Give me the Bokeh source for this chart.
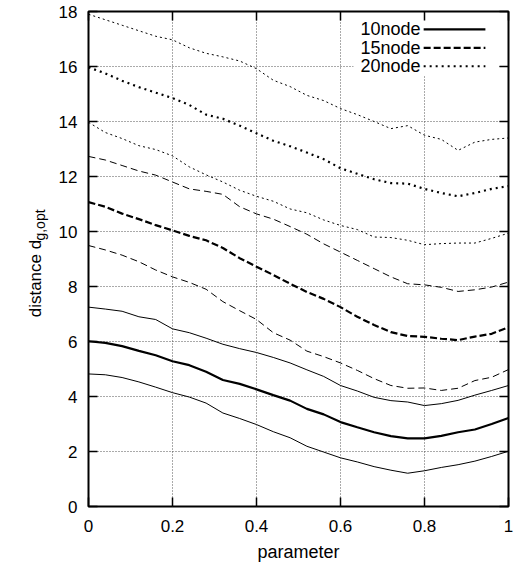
import math
from bokeh.plotting import figure
from bokeh.models import Range1d, LinearAxis, Label, BoxAnnotation, FixedTicker
from bokeh.embed import file_html
from bokeh.resources import INLINE

# ---- data ----
x_vals = [0.00, 0.04, 0.08, 0.12, 0.16, 0.20, 0.24, 0.28, 0.32, 0.36, 0.40, 0.44, 0.48,
          0.52, 0.56, 0.60, 0.64, 0.68, 0.72, 0.76, 0.80, 0.84, 0.88, 0.92, 0.96, 1.00]

node20_upper = [17.9, 17.7, 17.5, 17.3, 17.1, 16.97, 16.68, 16.48, 16.35, 16.2, 15.92, 15.5, 15.27,
                14.95, 14.76, 14.47, 14.25, 14.0, 13.74, 13.85, 13.5, 13.35, 12.95, 13.25, 13.35, 13.4]
node20_mean = [15.97, 15.75, 15.48, 15.25, 15.05, 14.85, 14.6, 14.25, 14.1, 13.85, 13.57, 13.3, 13.1,
               12.87, 12.63, 12.3, 12.1, 11.9, 11.76, 11.74, 11.55, 11.4, 11.28, 11.4, 11.55, 11.65]
node20_lower = [13.97, 13.6, 13.38, 13.12, 12.98, 12.75, 12.35, 12.06, 11.8, 11.5, 11.28, 11.1, 10.82,
                10.68, 10.42, 10.22, 10.07, 9.8, 9.78, 9.68, 9.52, 9.56, 9.58, 9.58, 9.75, 9.94]

node15_upper = [12.73, 12.6, 12.4, 12.2, 12.05, 11.8, 11.55, 11.46, 11.35, 10.9, 10.64, 10.45, 10.18,
                9.9, 9.55, 9.25, 8.95, 8.65, 8.35, 8.1, 8.06, 7.97, 7.82, 7.88, 7.98, 8.16]
node15_mean = [11.07, 10.9, 10.65, 10.45, 10.23, 10.04, 9.84, 9.68, 9.4, 9.03, 8.72, 8.42, 8.1,
               7.8, 7.55, 7.25, 6.9, 6.6, 6.34, 6.2, 6.17, 6.1, 6.05, 6.18, 6.28, 6.52]
node15_lower = [9.49, 9.33, 9.14, 8.9, 8.6, 8.35, 8.15, 7.9, 7.45, 7.12, 6.8, 6.32, 6.05,
                5.65, 5.45, 5.22, 4.95, 4.65, 4.4, 4.3, 4.31, 4.22, 4.3, 4.58, 4.7, 4.98]

node10_upper = [7.25, 7.18, 7.1, 6.9, 6.8, 6.46, 6.32, 6.12, 5.9, 5.74, 5.6, 5.42, 5.22,
                4.97, 4.73, 4.4, 4.2, 3.97, 3.85, 3.8, 3.67, 3.74, 3.86, 4.05, 4.22, 4.4]
node10_mean = [6.01, 5.95, 5.83, 5.66, 5.5, 5.28, 5.14, 4.9, 4.6, 4.46, 4.26, 4.05, 3.85,
               3.55, 3.35, 3.07, 2.88, 2.7, 2.56, 2.48, 2.48, 2.57, 2.7, 2.8, 3.0, 3.22]
node10_lower = [4.82, 4.79, 4.69, 4.53, 4.34, 4.14, 3.98, 3.76, 3.4, 3.2, 2.98, 2.72, 2.5,
                2.19, 1.98, 1.77, 1.62, 1.45, 1.32, 1.21, 1.3, 1.42, 1.52, 1.65, 1.82, 2.01]

series_names = ["10node", "15node", "20node"]
x_ticks = [0, 0.2, 0.4, 0.6, 0.8, 1]
x_tick_labels = ["0", "0.2", "0.4", "0.6", "0.8", "1"]
y_ticks = [0, 2, 4, 6, 8, 10, 12, 14, 16, 18]

FONT = "Liberation Sans"

p = figure(frame_width=420, frame_height=495,
           x_range=Range1d(0, 1), y_range=Range1d(0, 18),
           output_backend="svg", toolbar_location=None,
           min_border_left=88, min_border_right=6, min_border_top=11, min_border_bottom=40,
           background_fill_color="white", border_fill_color="white")

p.outline_line_color = "black"
p.outline_line_width = 2

for ax in (p.xaxis[0], p.yaxis[0]):
    ax.axis_line_color = None
    ax.major_tick_in = 9
    ax.major_tick_out = 0
    ax.major_tick_line_width = 1.5
    ax.minor_tick_line_color = None
    ax.major_label_text_font = FONT
    ax.major_label_text_font_size = "17px"
    ax.major_label_text_color = "black"

p.xaxis.ticker = FixedTicker(ticks=x_ticks)
p.yaxis.ticker = FixedTicker(ticks=y_ticks)
p.xaxis.major_label_overrides = {t: l for t, l in zip(x_ticks, x_tick_labels)}
p.xaxis.major_label_standoff = 13
p.yaxis.major_label_standoff = 11

p.xaxis.axis_label = "parameter"
p.xaxis.axis_label_text_font = FONT
p.xaxis.axis_label_text_font_size = "18px"
p.xaxis.axis_label_text_font_style = "normal"
p.xaxis.axis_label_text_color = "black"
p.xaxis.axis_label_standoff = 7

# mirror ticks on right and top
right_ax = LinearAxis(ticker=FixedTicker(ticks=y_ticks), axis_line_color=None,
                      major_tick_in=9, major_tick_out=0, major_tick_line_width=1.5,
                      minor_tick_line_color=None, major_label_text_font_size="0px",
                      major_label_standoff=0)
top_ax = LinearAxis(ticker=FixedTicker(ticks=x_ticks), axis_line_color=None,
                    major_tick_in=9, major_tick_out=0, major_tick_line_width=1.5,
                    minor_tick_line_color=None, major_label_text_font_size="0px",
                    major_label_standoff=0)
p.add_layout(right_ax, "right")
p.add_layout(top_ax, "above")

# grid
p.xgrid.ticker = FixedTicker(ticks=x_ticks)
p.ygrid.ticker = FixedTicker(ticks=y_ticks)
for g in (p.xgrid[0], p.ygrid[0]):
    g.grid_line_color = "#555555"
    g.grid_line_dash = "1 2"
    g.grid_line_width = 1

# white legend background (hides grid, drawn below curves)
p.add_layout(BoxAnnotation(left=0.631, right=0.976, bottom=15.67, top=17.9,
                           fill_color="white", fill_alpha=1.0, line_color=None,
                           level="underlay"))

THIN, THICK = 1.0, 2.2
dash10, dash15, dash20 = "solid", "7 3", "2 4"
dash15_thin, dash20_thin = "7 4", "2 3"

p.line(x_vals, node10_upper, line_color="black", line_width=THIN, line_dash=dash10)
p.line(x_vals, node10_mean, line_color="black", line_width=THICK, line_dash=dash10)
p.line(x_vals, node10_lower, line_color="black", line_width=THIN, line_dash=dash10)
p.line(x_vals, node15_upper, line_color="black", line_width=THIN, line_dash=dash15_thin)
p.line(x_vals, node15_mean, line_color="black", line_width=THICK, line_dash=dash15)
p.line(x_vals, node15_lower, line_color="black", line_width=THIN, line_dash=dash15_thin)
p.line(x_vals, node20_upper, line_color="black", line_width=THIN, line_dash=dash20_thin)
p.line(x_vals, node20_mean, line_color="black", line_width=THICK, line_dash=dash20)
p.line(x_vals, node20_lower, line_color="black", line_width=THIN, line_dash=dash20_thin)

# custom legend: text right-aligned, line sample on the right
leg_y = [17.35, 16.68, 16.01]
leg_dash = [dash10, dash15, dash20]
for name, ly, dsh in zip(series_names, leg_y, leg_dash):
    p.add_layout(Label(x=0.7905, y=ly, text=name, text_align="right", text_baseline="middle",
                       text_font=FONT, text_font_size="18px", text_color="black"))
    p.segment(x0=[0.798], y0=[ly], x1=[0.945], y1=[ly], line_color="black",
              line_width=THICK, line_dash=dsh)

# y axis label with subscript, placed in the left side panel
p.add_layout(Label(x=-0.1262, y=6.88, text="distance d", angle=math.pi / 2,
                   text_align="left", text_baseline="alphabetic",
                   text_font=FONT, text_font_size="17px", text_color="black"), "left")
p.add_layout(Label(x=-0.1155, y=9.67, text="g,opt", angle=math.pi / 2,
                   text_align="left", text_baseline="alphabetic",
                   text_font=FONT, text_font_size="14px", text_color="black"), "left")

open("out.html", "w").write(file_html(p, INLINE))
